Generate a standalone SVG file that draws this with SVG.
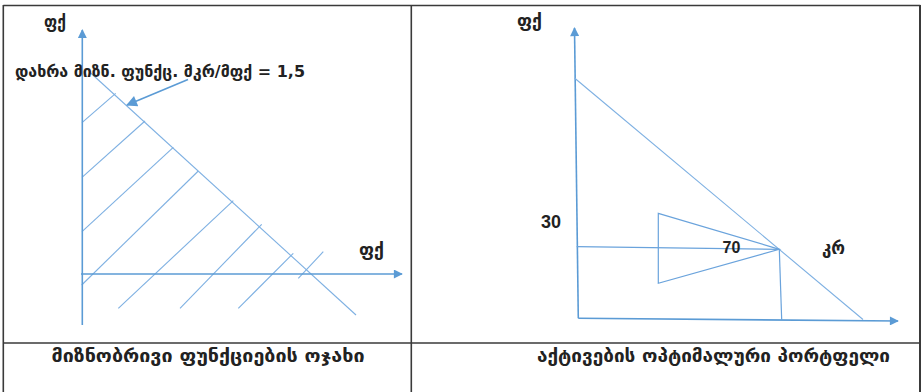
<svg xmlns="http://www.w3.org/2000/svg" width="921" height="392" viewBox="0 0 921 392">
<defs>
<style>
.grid{stroke:#3a3a3a;stroke-width:1.6;fill:none}
.axis{stroke:#5b9bd5;stroke-width:1.6;fill:none}
.thin{stroke:#7eb0e2;stroke-width:1.1;fill:none}
.thin2{stroke:#6aa3dc;stroke-width:1.2;fill:none}
.lbl{font-family:"DejaVu Sans","Noto Sans",sans-serif;font-weight:bold;fill:#222}
.num{font-family:"Liberation Sans",Arial,sans-serif;font-weight:bold;fill:#222}
</style>
<marker id="ah" viewBox="0 0 10 10" refX="9" refY="5" markerWidth="10" markerHeight="9" markerUnits="userSpaceOnUse" orient="auto">
<path d="M0,0 L10,5 L0,10 z" fill="#5b9bd5"/>
</marker>
<marker id="ah2" viewBox="0 0 10 10" refX="9" refY="5" markerWidth="14" markerHeight="11" markerUnits="userSpaceOnUse" orient="auto">
<path d="M0,0 L10,5 L0,10 z" fill="#5b9bd5"/>
</marker>
</defs>
<rect width="921" height="392" fill="#fff"/>
<g id="table">
<line class="grid" x1="3.3" y1="5.5" x2="920.3" y2="5.5"/>
<line class="grid" x1="3.3" y1="5" x2="3.3" y2="392"/>
<line class="grid" x1="411.3" y1="5" x2="411.3" y2="392"/>
<line class="grid" x1="920" y1="5" x2="920" y2="392" style="stroke-width:2"/>
<line class="grid" x1="3.3" y1="343" x2="920.3" y2="343"/>
</g>
<g id="left-panel">
<g id="left-hatch">
<line class="thin" x1="82" y1="122.7" x2="115.7" y2="93.3"/>
<line class="thin" x1="82" y1="177.3" x2="145" y2="121"/>
<line class="thin" x1="82" y1="231.7" x2="173.3" y2="147.3"/>
<line class="thin" x1="81.7" y1="285" x2="198.3" y2="171"/>
<line class="thin" x1="118.3" y1="308.3" x2="233.3" y2="200.7"/>
<line class="thin" x1="180" y1="308.3" x2="261.7" y2="224.3"/>
<line class="thin" x1="238.3" y1="308.3" x2="293.3" y2="253.3"/>
<line class="thin" x1="298.3" y1="278.3" x2="323.3" y2="251.7"/>
</g>
<line id="left-budget" class="thin" x1="90.7" y1="73" x2="356" y2="315"/>
<g id="left-axes">
<line class="axis" x1="82.3" y1="325" x2="82.3" y2="30" marker-end="url(#ah)"/>
<line class="axis" x1="81" y1="274" x2="402" y2="274" marker-end="url(#ah)"/>
</g>
<g id="left-labels">
<text class="lbl" x="44" y="28" font-size="18" textLength="22" lengthAdjust="spacingAndGlyphs">ფქ</text>
<text class="lbl" x="359" y="256" font-size="18" textLength="25" lengthAdjust="spacingAndGlyphs">ფქ</text>
<text class="lbl" x="15" y="77" font-size="16.5" textLength="290" lengthAdjust="spacingAndGlyphs">დახრა მიზნ. ფუნქც. მკრ/მფქ = 1,5</text>
</g>
<line id="left-annot-arrow" class="axis" x1="188" y1="79.5" x2="127" y2="105" marker-end="url(#ah2)"/>
<text id="caption-left" class="lbl" x="208" y="362" font-size="18" text-anchor="middle" textLength="313" lengthAdjust="spacingAndGlyphs">მიზნობრივი ფუნქციების ოჯახი</text>
</g>
<g id="right-panel">
<g id="right-axes">
<line class="axis" x1="578.3" y1="318.3" x2="574.5" y2="28" marker-end="url(#ah)"/>
<line class="axis" x1="578.3" y1="318.3" x2="898" y2="321" marker-end="url(#ah)"/>
</g>
<line id="right-budget" class="thin" x1="574.5" y1="78" x2="863" y2="319.5"/>
<g id="right-lines">
<line class="thin2" x1="576.7" y1="246.7" x2="779.3" y2="249.3"/>
<line class="thin2" x1="779.3" y1="249.3" x2="781.7" y2="320"/>
<polygon class="thin2" points="658.3,213.3 779.3,249.3 658.3,283.3"/>
</g>
<g id="right-labels">
<text class="lbl" x="517" y="27" font-size="18" textLength="25" lengthAdjust="spacingAndGlyphs">ფქ</text>
<text class="num" x="541" y="228.3" font-size="18">30</text>
<text class="num" x="722.5" y="253.3" font-size="16">70</text>
<text class="lbl" x="822" y="254" font-size="18" textLength="23" lengthAdjust="spacingAndGlyphs">კრ</text>
</g>
<text id="caption-right" class="lbl" x="713.5" y="362" font-size="18" text-anchor="middle" textLength="353" lengthAdjust="spacingAndGlyphs">აქტივების ოპტიმალური პორტფელი</text>
</g>
</svg>
